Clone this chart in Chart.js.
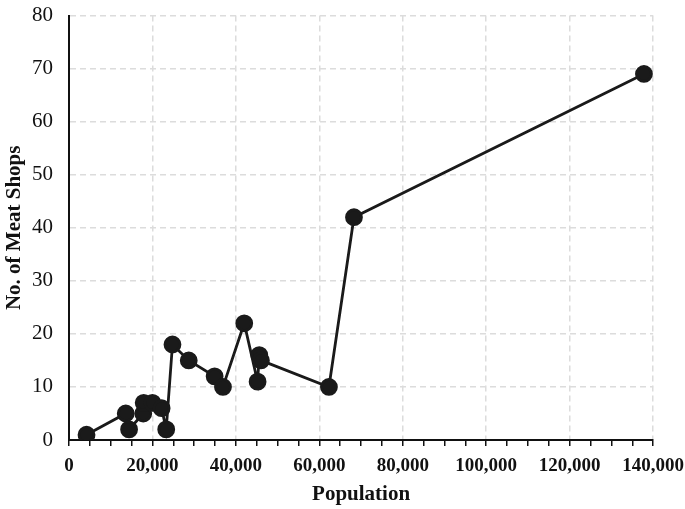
<!DOCTYPE html>
<html>
<head>
<meta charset="utf-8">
<script src="https://cdn.jsdelivr.net/npm/chart.js@4.4.1/dist/chart.umd.min.js"></script>
<style>
html,body{margin:0;padding:0;background:#fff;overflow:hidden;}
#wrap{width:693px;height:522px;margin-top:-13px;position:relative;}
</style>
</head>
<body>
<div id="wrap"><canvas id="c"></canvas></div>
<script>
const population = [4200, 13600, 14400, 17800, 17900, 20000, 22200, 23300, 24800, 28700, 34900, 36900, 42000, 45200, 45600, 46000, 62300, 68300, 137800];
const meatShops  = [1, 5, 2, 5, 7, 7, 6, 2, 18, 15, 12, 10, 22, 11, 16, 15, 10, 42, 69];
const xTicks = [0, 20000, 40000, 60000, 80000, 100000, 120000, 140000];
const yTicks = [0, 10, 20, 30, 40, 50, 60, 70, 80];

const points = population.map((p, i) => ({x: p, y: meatShops[i]}));
const ink = '#1a1a1a';
const gridCol = '#dcdcdc';
const serif = "'Liberation Serif', 'Times New Roman', serif";

new Chart(document.getElementById('c'), {
  type: 'scatter',
  data: {
    datasets: [{
      data: points,
      showLine: true,
      borderColor: ink,
      borderWidth: 2.8,
      backgroundColor: ink,
      pointBackgroundColor: ink,
      pointBorderColor: ink,
      pointRadius: 7.5,
      pointHoverRadius: 7.5,
      tension: 0
    }]
  },
  options: {
    responsive: true,
    maintainAspectRatio: false,
    animation: false,
    layout: {padding: {top: 2, right: 0, bottom: 2, left: 2}},
    plugins: {legend: {display: false}, tooltip: {enabled: false}},
    scales: {
      x: {
        type: 'linear',
        min: xTicks[0],
        max: xTicks[xTicks.length - 1],
        afterBuildTicks: (axis) => {
          const t = [];
          for (let v = xTicks[0]; v <= xTicks[xTicks.length - 1]; v += 5000) t.push({value: v});
          axis.ticks = t;
        },
        afterFit: (axis) => { axis.height = 67; },
        ticks: {
          autoSkip: false,
          maxRotation: 0,
          color: '#111',
          padding: 9,
          font: {family: serif, size: 19, weight: 'bold'},
          callback: (v) => xTicks.includes(v) ? v.toLocaleString('en-US') : ''
        },
        grid: {
          color: (ctx) => (ctx.tick && xTicks.includes(ctx.tick.value) && ctx.tick.value !== 0) ? gridCol : 'rgba(0,0,0,0)',
          lineWidth: 1.5,
          drawTicks: true,
          tickLength: 6,
          tickWidth: 1.5,
          tickColor: '#111'
        },
        border: {display: true, color: '#111', width: 2, dash: [6, 4]},
        title: {
          display: true,
          text: 'Population',
          color: '#111',
          font: {family: serif, size: 21, weight: 'bold'},
          padding: {top: 6, bottom: 0}
        }
      },
      y: {
        type: 'linear',
        min: yTicks[0],
        max: yTicks[yTicks.length - 1],
        afterBuildTicks: (axis) => { axis.ticks = yTicks.map(v => ({value: v})); },
        afterFit: (axis) => { axis.width = 67; },
        ticks: {
          color: '#111',
          padding: 16,
          font: {family: serif, size: 21}
        },
        grid: {
          color: (ctx) => (ctx.tick && ctx.tick.value !== 0) ? gridCol : 'rgba(0,0,0,0)',
          lineWidth: 1.5,
          drawTicks: false
        },
        border: {display: true, color: '#111', width: 2, dash: [6, 4]},
        title: {
          display: true,
          text: 'No. of Meat Shops',
          color: '#111',
          font: {family: serif, size: 21, weight: 'bold'},
          padding: {top: 0, bottom: 0}
        }
      }
    }
  }
});
</script>
</body>
</html>
